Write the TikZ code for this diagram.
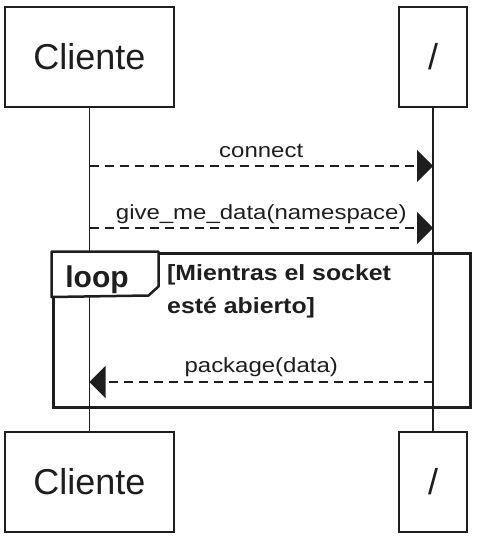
\documentclass[tikz,border=0pt]{standalone}
\usepackage{fontspec}
\setmainfont{Liberation Sans}
\usetikzlibrary{arrows.meta,calc}
\definecolor{ink}{HTML}{1E1E1E}
\begin{document}
\begin{tikzpicture}[x=1pt,y=1pt,
  actor/.style={draw=ink, line width=1.5pt, minimum width=169pt, minimum height=100pt, inner sep=0pt, text=ink, font=\fontsize{36}{40}\selectfont},
  slashbox/.style={actor, minimum width=68pt},
  life/.style={draw=ink, line width=1.4pt},
  msg/.style={draw=ink, line width=1.3pt, dash pattern=on 9pt off 6pt, -{Triangle[length=16pt,width=32pt]}},
  lbl/.style={anchor=base, inner sep=0pt, text=ink, font=\fontsize{20.5}{24}\selectfont},
  guard/.style={anchor=base west, inner sep=0pt, text=ink, font=\bfseries\fontsize{22}{26}\selectfont},
  frame/.style={draw=ink, line width=3pt, inner sep=0pt},
]
\useasboundingbox (0,0) rectangle (478,-536);
\node[actor] (c1) at (89.5,-57) {Cliente};
\node[slashbox] (s1) at (433,-57) {/};
\node[actor] (c2) at (89.5,-482) {Cliente};
\node[slashbox] (s2) at (433,-482) {/};
\draw[life] (c1) -- (c2);
\draw[life] (s1) -- (s2);
% messages
\coordinate (m1a) at (c1.south |- 0,-166);
\coordinate (m1b) at (s1.south |- 0,-166);
\coordinate (m2a) at (c1.south |- 0,-228);
\coordinate (m2b) at (s1.south |- 0,-228);
\coordinate (m3a) at (s1.south |- 0,-382);
\coordinate (m3b) at (c1.south |- 0,-382);
\draw[msg] (m1a) -- (m1b);
\node[lbl] (l1) at ($(m1a)!0.5!(m1b)+(0,9)$) {\scalebox{1.17}[1]{connect}};
\draw[msg] (m2a) -- (m2b);
\node[lbl] (l2) at ($(m2a)!0.5!(m2b)+(0,9)$) {\scalebox{1.17}[1]{give\_me\_data(namespace)}};
% loop frame
\node[frame, minimum width=417pt, minimum height=154pt] (loop) at (261.5,-330) {};
\filldraw[draw=ink, fill=white, line width=2.5pt, line join=round]
  (loop.north west) -- ++(107,0) -- ++(0,-35) -- ++(-10,-9) -- (loop.west |- 0,-297) -- cycle;
\node[anchor=base, inner sep=0pt, text=ink, font=\bfseries\fontsize{30}{34}\selectfont] (lp) at (97,-287) {loop};
\node[guard] (g1) at (167,-280) {\scalebox{1.13}[1]{[Mientras el socket}};
\node[guard] (g2) at (167,-313) {\scalebox{1.13}[1]{esté abierto]}};
\draw[msg] (m3a) -- (m3b);
\node[lbl] (l3) at ($(m3a)!0.5!(m3b)+(0,10)$) {\scalebox{1.17}[1]{package(data)}};
\end{tikzpicture}
\end{document}
